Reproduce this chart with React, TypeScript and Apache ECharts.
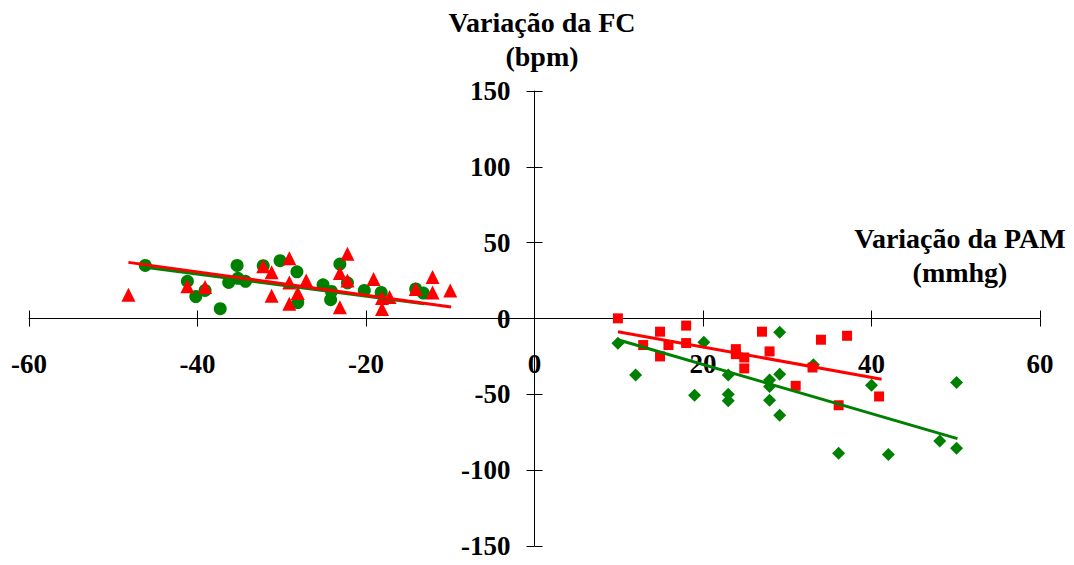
import React, { useEffect, useRef } from "react";
import * as echarts from "echarts";

// Left quadrant (PAM decrease): green circles and red triangles
const leftCircles: number[][] = [
  [-46.2, 35.0], [-41.2, 24.5], [-40.2, 14.5], [-39.1, 18.5], [-37.3, 6.5], [-36.3, 23.8],
  [-35.3, 35.0], [-35.2, 26.5], [-34.3, 24.5], [-32.2, 34.8], [-30.2, 38.1], [-28.2, 30.8],
  [-28.1, 10.5], [-25.1, 22.2], [-24.1, 17.8], [-24.2, 12.4], [-23.1, 35.9], [-22.2, 23.5],
  [-20.2, 18.5], [-18.2, 17.2], [-14.1, 19.5], [-13.2, 16.8],
];
const leftTriangles: number[][] = [
  [-48.2, 15.7], [-41.2, 21.2], [-39.1, 20.8], [-32.2, 34.5], [-31.2, 30.5], [-31.2, 15.0],
  [-29.1, 39.8], [-29.1, 23.8], [-29.1, 9.7], [-28.1, 16.8], [-27.1, 25.0], [-23.1, 30.0],
  [-22.2, 42.7], [-22.2, 25.0], [-23.1, 7.5], [-19.1, 26.0], [-18.1, 13.5], [-18.1, 6.2],
  [-17.2, 14.2], [-14.1, 19.5], [-12.1, 27.4], [-12.1, 17.2], [-10.0, 18.5],
];
// Right quadrant (PAM increase): red squares and green diamonds
const rightSquares: number[][] = [
  [9.9, 0.1], [12.9, -17.5], [14.9, -8.7], [14.9, -25], [15.9, -17.5], [18.0, -4.7],
  [18.0, -16.2], [23.9, -20.2], [23.9, -23.5], [24.9, -25.7], [24.9, -32.9], [27.0, -8.7],
  [27.9, -21.7], [31.0, -44.4], [33.0, -32.3], [34.0, -14], [36.1, -57.2], [37.1, -11.4],
  [40.9, -51.4],
];
const rightDiamonds: number[][] = [
  [9.9, -16.4], [12.0, -37.3], [19.0, -50.6], [20.1, -15.7], [23.0, -37.3], [23.0, -49.9],
  [23.0, -54.3], [27.9, -40.6], [27.9, -44.8], [27.9, -53.9], [29.1, -9.1], [29.1, -36.7],
  [29.1, -63.8], [33.1, -30.5], [36.1, -88.9], [40.0, -44.0], [42.0, -89.6], [48.1, -80.7],
  [50.1, -42.2], [50.1, -85.6],
];
// Trend lines (endpoints)
const leftGreenLine: number[][] = [[-46.2, 33.8], [-13.1, 9.7]];
const leftRedLine: number[][] = [[-48.2, 37.0], [-9.9, 7.6]];
const rightRedLine: number[][] = [[9.9, -8.7], [41.2, -40]];
const rightGreenLine: number[][] = [[9.9, -14], [50.2, -79.2]];

const xTickMin = -60;
const xTickMax = 60;
const xTickStep = 20;
const yTickMin = -150;
const yTickMax = 150;
const yTickStep = 50;

const yTitleLines = ["Variação da FC", "(bpm)"];
const xTitleLines = ["Variação da PAM", "(mmhg)"];

const RED = "#FF0000";
const GREEN = "#008000";
const FONT = "'Liberation Serif', 'Times New Roman', serif";

// plot frame (pixels)
const G_LEFT = 29;
const G_TOP = 91;
const G_W = 1011;
const G_H = 455;

export default function App() {
  const ref = useRef<HTMLDivElement>(null);

  useEffect(() => {
    if (!ref.current) return;
    const chart = echarts.init(ref.current, null, { renderer: "svg" });

    const zeroX = G_LEFT + (G_W * (0 - xTickMin)) / (xTickMax - xTickMin);
    const zeroY = G_TOP + (G_H * (yTickMax - 0)) / (yTickMax - yTickMin);

    const labelStyle = {
      fontFamily: FONT,
      fontWeight: "bold" as const,
      fontSize: 27,
      color: "#000",
    };
    const tick = { show: true, length: 8, lineStyle: { color: "#000", width: 1 } };

    const scatter = (data: number[][], symbol: string, size: number, color: string) => ({
      type: "scatter",
      xAxisIndex: 0,
      yAxisIndex: 0,
      data,
      symbol,
      symbolSize: size,
      itemStyle: { color, opacity: 1 },
      z: 3,
    });
    const line = (data: number[][], color: string, z: number) => ({
      type: "line",
      xAxisIndex: 0,
      yAxisIndex: 0,
      data,
      showSymbol: false,
      symbol: "none",
      lineStyle: { color, width: 3 },
      z,
    });

    const common = { outerBoundsMode: "none", containLabel: false };

    const titleText = (t: string, x: number, y: number) => ({
      type: "text",
      x,
      y,
      style: {
        text: t,
        fontFamily: FONT,
        fontWeight: "bold",
        fontSize: 28,
        fill: "#000",
        align: "center",
        verticalAlign: "middle",
      },
    });

    chart.setOption({
      animation: false,
      backgroundColor: "#fff",
      grid: [
        { ...common, left: G_LEFT, top: G_TOP, width: G_W, height: G_H },
        // grid whose bottom edge is the zero line: carries the x tick labels
        { ...common, left: G_LEFT, top: G_TOP, width: G_W, height: zeroY - G_TOP },
        // grid whose left edge is the zero line: carries the y tick labels
        { ...common, left: zeroX, top: G_TOP, width: G_LEFT + G_W - zeroX, height: G_H },
      ],
      xAxis: [
        {
          gridIndex: 0,
          type: "value",
          min: xTickMin,
          max: xTickMax,
          interval: xTickStep,
          position: "bottom",
          axisLine: { show: true, onZero: true, onZeroAxisIndex: 0, lineStyle: { color: "#000", width: 1 } },
          axisTick: tick,
          axisLabel: { show: false },
          splitLine: { show: false },
        },
        {
          gridIndex: 0,
          type: "value",
          min: xTickMin,
          max: xTickMax,
          interval: xTickStep,
          position: "top",
          axisLine: { show: false, onZero: true, onZeroAxisIndex: 0 },
          axisTick: tick,
          axisLabel: { show: false },
          splitLine: { show: false },
        },
        {
          gridIndex: 1,
          type: "value",
          min: xTickMin,
          max: xTickMax,
          interval: xTickStep,
          position: "bottom",
          axisLine: { show: false, onZero: false },
          axisTick: { show: false },
          axisLabel: { ...labelStyle, margin: 32 },
          splitLine: { show: false },
        },
        {
          gridIndex: 2,
          type: "value",
          min: 0,
          max: xTickMax,
          show: false,
          axisLine: { onZero: false },
        },
      ],
      yAxis: [
        {
          gridIndex: 0,
          type: "value",
          min: yTickMin,
          max: yTickMax,
          interval: yTickStep,
          position: "left",
          axisLine: { show: true, onZero: true, onZeroAxisIndex: 0, lineStyle: { color: "#000", width: 1 } },
          axisTick: tick,
          axisLabel: { show: false },
          splitLine: { show: false },
        },
        {
          gridIndex: 0,
          type: "value",
          min: yTickMin,
          max: yTickMax,
          interval: yTickStep,
          position: "right",
          axisLine: { show: false, onZero: true, onZeroAxisIndex: 0 },
          axisTick: tick,
          axisLabel: { show: false },
          splitLine: { show: false },
        },
        {
          gridIndex: 1,
          type: "value",
          min: 0,
          max: yTickMax,
          show: false,
          axisLine: { onZero: false },
        },
        {
          gridIndex: 2,
          type: "value",
          min: yTickMin,
          max: yTickMax,
          interval: yTickStep,
          position: "left",
          axisLine: { show: false, onZero: false },
          axisTick: { show: false },
          axisLabel: { ...labelStyle, margin: 24 },
          splitLine: { show: false },
        },
      ],
      series: [
        scatter(leftCircles, "circle", 13, GREEN),
        scatter(leftTriangles, "triangle", 14, RED),
        scatter(rightDiamonds, "diamond", 13, GREEN),
        scatter(rightSquares, "rect", 10, RED),
        line(leftGreenLine, GREEN, 4),
        line(leftRedLine, RED, 5),
        line(rightGreenLine, GREEN, 4),
        line(rightRedLine, RED, 5),
      ],
      graphic: [
        ...yTitleLines.map((t, i) => titleText(t, 542, 22.5 + i * 34)),
        ...xTitleLines.map((t, i) => titleText(t, 960, 238 + i * 34)),
      ],
    });

    return () => chart.dispose();
  }, []);

  return (
    <div
      ref={ref}
      style={{ position: "fixed", left: 0, top: 0, width: 1074, height: 565, background: "#fff" }}
    />
  );
}
